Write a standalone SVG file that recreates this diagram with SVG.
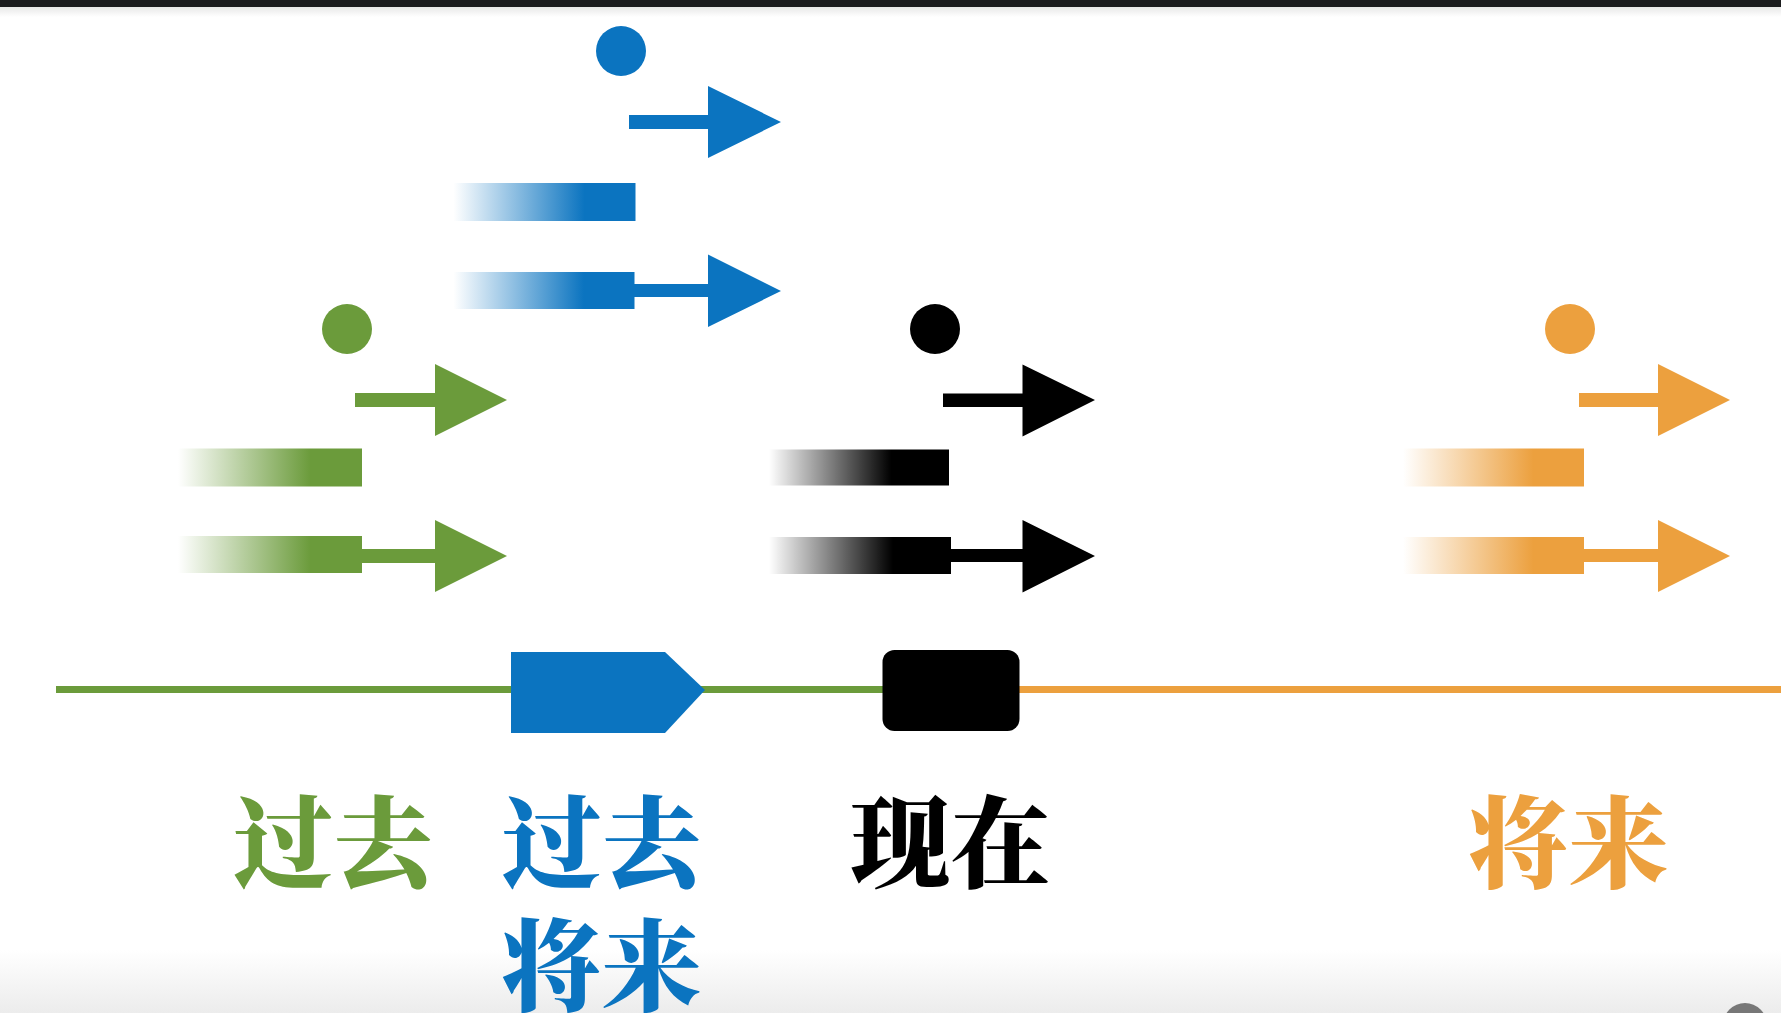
<svg xmlns="http://www.w3.org/2000/svg" width="1781" height="1013" viewBox="0 0 1781 1013">
<style>
.lbl{font-family:"Noto Serif CJK SC","Noto Sans CJK SC",serif;font-size:100px;font-weight:900;text-anchor:middle}
.g{fill:#6b9b3b}.b{fill:#0b74c0}.k{fill:#000}.o{fill:#eca03e}
</style>
<defs>
<linearGradient id="topfade" x1="0" y1="0" x2="0" y2="1"><stop offset="0" stop-color="#e8e8e8"/><stop offset="1" stop-color="#fff"/></linearGradient>
<linearGradient id="botfade" x1="0" y1="0" x2="0" y2="1"><stop offset="0" stop-color="#fff"/><stop offset="1" stop-color="#ececec"/></linearGradient>
<linearGradient id="gG" x1="0" y1="0" x2="1" y2="0"><stop offset="0" stop-color="#6b9b3b" stop-opacity="0"/><stop offset="0.72" stop-color="#6b9b3b"/><stop offset="1" stop-color="#6b9b3b"/></linearGradient>
<linearGradient id="gB" x1="0" y1="0" x2="1" y2="0"><stop offset="0" stop-color="#0b74c0" stop-opacity="0"/><stop offset="0.72" stop-color="#0b74c0"/><stop offset="1" stop-color="#0b74c0"/></linearGradient>
<linearGradient id="gK" x1="0" y1="0" x2="1" y2="0"><stop offset="0" stop-color="#000" stop-opacity="0"/><stop offset="0.68" stop-color="#000"/><stop offset="1" stop-color="#000"/></linearGradient>
<linearGradient id="gO" x1="0" y1="0" x2="1" y2="0"><stop offset="0" stop-color="#eca03e" stop-opacity="0"/><stop offset="0.72" stop-color="#eca03e"/><stop offset="1" stop-color="#eca03e"/></linearGradient>
</defs>
<rect width="1781" height="1013" fill="#fff"/>
<rect x="0" y="7" width="1781" height="10" fill="url(#topfade)"/>
<rect x="0" y="0" width="1781" height="7" fill="#1b1c1e"/>
<rect x="0" y="950" width="1781" height="63" fill="url(#botfade)"/>
<circle cx="1745" cy="1025" r="22" fill="#777"/>

<g id="connectors">
<rect x="56" y="686" width="827" height="7" fill="#6b9b3b"/>
<rect x="1019" y="686" width="762" height="7" fill="#eca03e"/>
</g>

<g id="past-future-marker">
<path class="b" d="M511 652H665L705 690L665 733H511Z"/>
</g>
<g id="present-marker">
<rect x="882.5" y="650" width="137" height="81" rx="12" fill="#000"/>
</g>

<g id="past-icons">
<circle class="g" cx="347" cy="329" r="25"/>
<path class="g" d="M355 393H435V364L507 400L435 436V407H355Z"/>
<rect x="178" y="448.5" width="184" height="38" fill="url(#gG)"/>
<rect x="178" y="536" width="184" height="37" fill="url(#gG)"/>
<path class="g" d="M362 549H435V520L507 556L435 592V563H362Z"/>
</g>

<g id="pastfuture-icons">
<circle class="b" cx="621" cy="51" r="25"/>
<path class="b" d="M629 115H708V86L781 122L708 158V129H629Z"/>
<rect x="453.5" y="183" width="182" height="38" fill="url(#gB)"/>
<rect x="453.5" y="272" width="181" height="37" fill="url(#gB)"/>
<path class="b" d="M634 284H708V254.5L781 291L708 327V297H634Z"/>
</g>

<g id="present-icons">
<circle class="k" cx="935" cy="329" r="25"/>
<path class="k" d="M943 393.5H1022.5V364.5L1095 400L1022.5 436.5V407H943Z"/>
<rect x="769" y="449.5" width="180" height="36" fill="url(#gK)"/>
<rect x="769" y="537" width="182" height="37" fill="url(#gK)"/>
<path class="k" d="M951 549H1022.5V520L1095 556L1022.5 592.5V562H951Z"/>
</g>

<g id="future-icons">
<circle class="o" cx="1570" cy="329" r="25"/>
<path class="o" d="M1579 393H1658V364L1730 400L1658 436V407H1579Z"/>
<rect x="1403" y="448.5" width="181" height="38" fill="url(#gO)"/>
<rect x="1403" y="537" width="181" height="37" fill="url(#gO)"/>
<path class="o" d="M1584 549H1658V520L1730 556L1658 592V562H1584Z"/>
</g>

<g id="labels">
<text class="lbl g" x="333" y="880">过去</text>
<text class="lbl b" x="601.5" y="880">过去</text>
<text class="lbl b" x="601.5" y="1003">将来</text>
<text class="lbl k" x="950.5" y="880">现在</text>
<text class="lbl o" x="1568.5" y="880">将来</text>
</g>
</svg>
